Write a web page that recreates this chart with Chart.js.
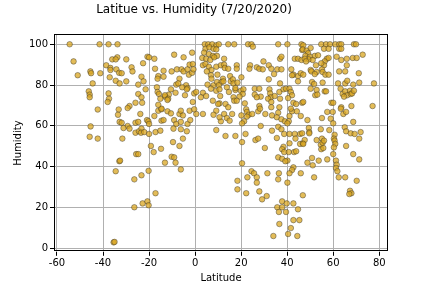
<!DOCTYPE html>
<html><head><meta charset="utf-8">
<script src="https://cdn.jsdelivr.net/npm/chart.js@4.4.0/dist/chart.umd.min.js"></script>
<style>html,body{margin:0;padding:0;background:#fff}canvas{display:block}</style>
</head><body><canvas id="c" width="432" height="288"></canvas>
<script>
const latitude = [
-54.5,-41.5,-37.6,-33.7,-52.8,-51,-45.5,-45.2,-41.2,-44.5,-38.6,-36,-33.8,-34.5,-29.9,-36.8,-36.8,-34.2,-33,-31.9,-37.1,-34.5,-32.8,-29.9,-27.6,-27.2,-46.2,-45.8,-45.8,-37.6,-37.4,-38,-42.3,-33.2,-28.5,-29.3,-25.9,
-33.5,-32.8,-31.9,-29.3,-28.5,-31.1,-25.9,-25.9,-45.4,-45.8,-42.3,-31.6,-25.6,-32.9,-32.6,-34.5,-26.4,
-26.4,-35.4,-35.0,-22.8,-20.7,-20.2,-17.2,
-23.8,-24.7,-20.9,-20.3,-20,-24.4,-23.3,-23.5,-22.1,-20,-17.2,-15.1,-17.7,-16,-14.6,-12,-10.5,-14.6,-13.7,-9.1,-8.2,-6.2,-6.8,-5.3,-6.2,-3.3,-2.1,-2.4,0.5,3.4,-3.6,-6.2,-9.4,-5.3,-9.6,-6.8,-19.2,-18,-14.8,-24.7,-10.2,-9.1,-8.5,-13.1,-6.2,-20.2,-23.3,9.2,9.2,8,
-20.7,-20,-17.7,-9.1,-5,-1.3,-22.6,-17.4,-13.7,-16,-16.3,-13.7,-23.3,-22.4,-24.7,-10.2,-7.9,-5.9,-5,-3.3,-2.7,-2.4,-1,-1.3,-0.7,-6.8,-8.2,-7.3,-3.9,-3.3,-10.5,-8.5,-11.4,-13.1,-5.6,-3.6,-16.6,-16.3,-15.7,-15.1,-13.1,-11.7,-21.5,-24.7,-23.3,-23,-14.6,-16,-12,-4.4,-1,-0.4,-0.4,0.5,
4.2,5.7,7.4,9.2,4.5,6.2,8,9.2,3.9,6,7.7,9.5,3.1,4.8,6.6,8.3,3.4,4.5,6,7.1,9.2,5.1,6.9,9.7,7.1,5.4,8,9.5,6.9,9.2,3.4,2.5,4.8,7.7,10.6,
10.3,14.4,17,23,24.5,36.1,40.1,46.2,25.1,12.6,46.5,36.9,37.5,43.3,44.7,46.2,29.7,11.2,12.6,12.9,14.4,18.1,18.1,23.9,23.6,26.8,27.9,29.4,32,33.1,34.3,35.7,37.5,32,41.8,42.7,44.7,45.9,42.1,44.7,12.1,11.5,12.3,15.2,15.5,16.4,16.7,18.4,20.1,10.3,10.6,13.8,14.7,17.5,17.5,19.9,21,20.7,19.3,25.9,25.9,27.9,28.5,26.8,32.3,32.6,32.9,34.6,36.6,36.9,38.4,39.5,41,41.6,42.1,10.9,10,13.2,14.4,16.7,17,18.1,21.6,22.2,27.9,31.7,33.1,33.1,36.9,36.6,40.4,42.7,43.9,46.5,
12.6,16.1,13.8,15,11.2,10.6,20.1,22.5,23.3,22.5,24.8,27.4,28.2,21.3,20.4,30.5,33.4,36.1,35.5,37.5,39,41,42.1,41.6,40.7,40.1,44.2,45.9,28.5,33.4,36.1,37.5,38.7,41,43.3,45.6,13.2,17.5,21.9,20.4,26.2,27.4,35.5,41,43.6,45.6,46.8,30.3,38.4,37.8,38.7,40.7,43,43.9,36.1,37.8,40.1,39.2,20.4,42.7,42.1,45.9,41,24.5,25.6,22.7,18.4,26.8,26.8,31.4,36.4,36.1,40.1,
18.4,22.2,27.9,31.1,29.1,37.8,39.8,42.7,46.8,35.7,37.8,36.4,39.5,44.7,42.7,45.3,36.6,41.6,40.4,44.4,34,
54.8,56.9,58.6,60.9,62.6,63.5,69,69.9,56,58,62.6,63.5,47,46.8,48.5,50.2,49.1,47.9,49.9,49.4,47.6,48.2,52,51.1,53.4,57.2,56.3,58,56,54.8,52.5,50.2,52.8,55.1,55.4,56.6,58,61.5,63.5,65.9,68.5,70.2,72.8,65.9,62.6,65.2,71.1,47,50.5,52,50.8,51.7,50.2,52.8,52.2,53.1,55.4,56.3,56.9,62.1,65.2,66.1,68.7,71.3,77.7,63.2,64.1,65.2,66.1,67.3,67.6,68.2,69,64.7,59.2,60,47,63.5,67.9,77.1,
57.4,59.8,63.3,64.4,65.6,48.8,55.1,58.9,60,68.7,49.4,49.6,49.6,46.5,54.6,58.3,65,65.6,67.6,69.3,71.9,71.3,47.6,47,52.8,55.1,54.6,55.4,56,54.8,55.7,60.6,60.3,60.6,60.9,60.3,65.6,60,68.7,71.3,57.4,53.7,50.8,48.8,51.1,61.2,61.5,61.2,61.8,62.4,65.2,70.2,51.7,
67.3,67.9,67
];
const humidity = [
100,100,100,100,91.6,84.8,86.7,85.8,85.8,80.8,89.7,92.6,93.6,92.6,92.6,88.4,87.4,87.7,86,85.8,83.8,82.1,80.8,81.8,88.7,86.7,76.9,75.3,74,75.9,73.3,71.7,68,68,69.7,68.7,71.3,
65.4,61.9,61.5,59.9,58.6,58.9,61.5,56.6,59.7,54.6,53.7,53.7,46.1,42.6,42.9,37.7,33.7,
20,2.8,3.0,21.9,22.9,21,26.9,
65.8,61.9,62.8,62.2,60.9,57.3,58.6,56.6,56.9,56,56.9,57.6,64.8,67.4,68.1,67.1,66.1,62.5,62.8,62.8,60.9,61.9,65.8,65.1,67.4,60.9,62.8,67.4,65.8,65.8,57.3,58.3,58.6,53.7,52,50.1,50.1,47.1,48.7,46.1,44.8,44.5,41.9,41.9,38.6,37.9,35.7,67.4,57.9,65.4,
93.9,93.6,92.9,94.9,93.6,95.9,90.7,88,87,84.4,83.1,84.1,84.1,81.8,80.2,86.7,87.7,87.7,86.7,87.7,85.1,90,90.3,86,87.7,83.1,80.2,80.8,79.9,78.5,77.9,76.2,75.3,74.3,78.9,77.9,78.9,76.6,75.6,73.3,75,73.3,77.9,75.6,74,71.3,68.4,70.3,72.7,75,71.7,68.1,75.9,76.6,
100,100,100,99.5,97.8,98.5,97.8,97.5,95.9,95.2,94.3,94.3,93.3,92.9,92.3,93.6,89.7,90.3,89,87.4,89,86.7,84.8,85.1,83.1,80.2,79.9,81.5,78.2,77.2,76.2,74,74.6,72.3,71,
100,100,100,100,100,100,100,100,98.8,92.9,97.2,92.9,93.9,92.9,92.9,92.3,91.6,89.7,90,88.4,88,89.7,88,89.7,88,88.7,88,87.7,89.7,88,85.4,87.7,87.7,82.8,87.7,85.1,84.4,85.8,84.8,81.8,83.1,81.5,81.8,84.4,81.8,82.8,80.8,81.2,83.8,79.9,77.9,78.9,76.6,77.6,78.5,77.2,77.9,75.6,74.3,78.2,75.3,78.2,74.3,74,77.9,75.9,74,74.6,76.6,80.8,77.9,78.2,78.2,76.6,75,74.6,70.7,70.7,69.1,74,72.3,72.3,71,68.1,69.7,73.3,71.7,69.1,73.3,69.1,73.6,71.3,70.7,71.3,
65.8,65.8,63.8,62.5,62.2,64.2,65.1,66.8,65.4,64.5,65.8,67.1,68.4,62.2,61.2,65.8,65.1,66.4,64.2,63.2,62.2,64.8,67.1,68.4,62.2,61.2,67.1,64.8,59.9,57.6,59.5,58.3,56,56,56,56,55,55,56,52,53,53.7,54,51.4,53.7,51.1,51.4,49.1,49.7,48.5,47.1,47.1,47.1,47.5,44.5,43.8,42.9,42.6,41.6,39.6,38.3,36.7,36.7,37.7,36.7,34.7,33,34.7,32.1,36.7,36.7,33.7,32.1,
28.8,26.9,27.8,25.5,23.9,22.9,21.9,21.9,25.9,20,20,17.7,17.7,19,13.7,13.7,11.8,9.8,6.9,5.9,5.9,
100,100,100,100,100,100,100,100,97.8,97.8,97.8,97.8,99.5,97.5,96.9,98.2,95.6,94.3,93.9,92.6,92.9,91.6,94.3,92.3,94.6,92.9,91.6,93.3,89.7,90.7,89.7,87.4,86.4,87.7,86.4,85.1,85.1,93.9,92.3,92.9,93.3,93.3,94.9,89.7,86.7,86.7,85.8,85.1,86.7,85.4,81.5,80.5,78.2,77.6,75,75.3,81.2,76.9,76.9,80.8,80.8,82.1,80.2,81.2,80.8,78.2,75.6,76.9,75,77.2,75.6,75.9,77.2,74.3,71.3,71.3,71.7,69.1,69.7,69.7,
66.8,66.8,68.4,65.8,66.8,62.8,63.8,63.5,61.2,61.9,58.9,56.9,56.3,56.3,58.3,57.9,59.3,57.3,56.3,56,56.9,53.7,53,51.1,53,53.7,50.7,51.7,52.7,48.5,49.1,55.6,53.7,52.7,51.1,49.4,50.1,46.1,46.1,43.5,43.5,42.9,44.2,41.9,40.6,42.9,40.9,39.3,37.7,34.7,34.7,33,34.7,
28.1,26.9,26.5
];
const xTicks = [-60, -40, -20, 0, 20, 40, 60, 80];
const yTicks = [0, 20, 40, 60, 80, 100];

const points = latitude.map((x, i) => ({ x: x, y: humidity[i] }));

const frame = {
  id: 'frame',
  afterDatasetsDraw(chart) {
    const { ctx, chartArea: a } = chart;
    ctx.save();
    ctx.strokeStyle = '#000';
    ctx.lineWidth = 1;
    ctx.strokeRect(Math.round(a.left) + 0.5, Math.round(a.top) + 0.5,
      Math.round(a.right - a.left) - 1, Math.round(a.bottom - a.top) - 1);
    ctx.restore();
  }
};

const font = 'DejaVu Sans';
new Chart(document.getElementById('c'), {
  type: 'scatter',
  data: { datasets: [{
    data: points,
    backgroundColor: 'rgba(218,165,32,0.75)',
    borderColor: 'rgba(40,40,40,0.5)',
    borderWidth: 0.8,
    pointRadius: 2.8
  }] },
  options: {
    responsive: false, animation: false, devicePixelRatio: 1,
    layout: { padding: { left: 0, right: 44, top: 0, bottom: 0 } },
    plugins: {
      legend: { display: false }, tooltip: { enabled: false },
      title: { display: true, text: 'Latitue vs. Humidity (7/20/2020)', color: '#000',
        font: { family: font, size: 12, weight: 'normal' }, padding: { top: 3, bottom: 17 } }
    },
    scales: {
      x: {
        type: 'linear', min: -61.3, max: 83.8,
        afterBuildTicks: s => { s.ticks = xTicks.map(v => ({ value: v })); },
        afterFit: s => { s.height = 36.2; },
        ticks: { color: '#000', font: { family: font, size: 10 }, padding: 2, maxRotation: 0, autoSkip: false },
        grid: { color: '#b0b0b0', lineWidth: 1, tickColor: '#000', tickLength: 4 },
        border: { display: false },
        title: { display: true, text: 'Latitude', color: '#000', font: { family: font, size: 10 }, padding: { top: 0, bottom: 4 } }
      },
      y: {
        type: 'linear', min: -1.85, max: 104.85,
        afterBuildTicks: s => { s.ticks = yTicks.map(v => ({ value: v })); },
        afterFit: s => { s.width = 54; },
        ticks: { color: '#000', font: { family: font, size: 10 }, padding: 2, autoSkip: false },
        grid: { color: '#b0b0b0', lineWidth: 1, tickColor: '#000', tickLength: 4 },
        border: { display: false },
        title: { display: true, text: 'Humidity', color: '#000', font: { family: font, size: 10 }, padding: { top: 12, bottom: 0 } }
      }
    }
  },
  plugins: [frame]
});
</script>
</body></html>
